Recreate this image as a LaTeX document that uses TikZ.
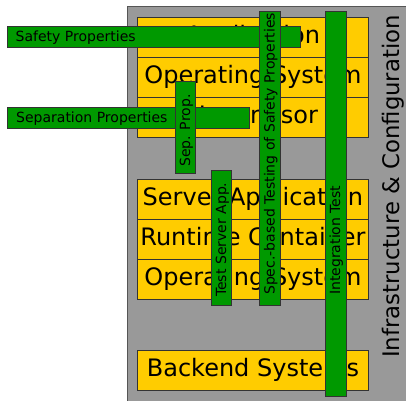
\documentclass[tikz,border=0pt]{standalone}
\usepackage{fontspec}
\setmainfont{DejaVu Sans}
\definecolor{bggray}{HTML}{999999}
\definecolor{graybd}{HTML}{555555}
\definecolor{layerY}{HTML}{FFCC00}
\definecolor{barG}{HTML}{009900}
\definecolor{edgeC}{HTML}{333333}
\begin{document}
\begin{tikzpicture}[x=1pt,y=-1pt,
  infrabox/.style={draw=graybd, line width=1.2pt, fill=bggray, inner sep=0pt, anchor=north west},
  layer/.style={draw=edgeC, line width=0.9pt, fill=layerY, minimum width=231.6pt, minimum height=40.2pt,
    inner sep=0pt, anchor=north west, font=\fontsize{24}{28}\selectfont, text height=17.5pt, text depth=5.5pt},
  gbar/.style={draw=edgeC, line width=0.9pt, fill=barG, inner sep=0pt, anchor=north west},
  lbl/.style={font=\fontsize{14}{16}\selectfont, inner sep=0pt, anchor=base west},
  vlbl/.style={lbl, rotate=90}]
\useasboundingbox (0,0) rectangle (406,400);
% background
\node[infrabox, minimum width=290pt, minimum height=400pt] (infra) at (126.5,5.5) {};
% layers
\node[layer] (app) at (136.7,16.7) {Application};
\node[layer] (os1) at (136.7,56.7) {Operating System};
\node[layer] (hyp) at (136.7,96.7) {Hypervisor};
\node[layer] (srv) at (136.7,178.5) {Server Application};
\node[layer] (rt) at (136.7,218.8) {Runtime Container};
\node[layer] (os2) at (136.7,259.1) {Operating System};
\node[layer] (be) at (136.7,350.2) {Backend Systems};
% horizontal bars
\node[gbar, minimum width=293.3pt, minimum height=20.7pt] (safety) at (6.7,26) {};
\node[lbl] (safetyT) at (15.5,41.5) {Safety Properties};
\node[gbar, minimum width=242.6pt, minimum height=20.4pt] (sep) at (6.7,107.3) {};
\node[lbl] (sepT) at (16,122.5) {Separation Properties};
% vertical bars
\node[gbar, minimum width=20pt, minimum height=91.5pt] (sepprop) at (175,81) {};
\node[vlbl] (seppropT) at (190,167) {Sep. Prop.};
\node[gbar, minimum width=20pt, minimum height=135pt] (testsrv) at (211,170) {};
\node[vlbl] (testsrvT) at (226,297) {Test Server App.};
\node[gbar, minimum width=20.7pt, minimum height=294pt] (spec) at (259.3,11) {};
\node[vlbl] (specT) at (274.6,295) {Spec.-based Testing of Safety Properties};
\node[gbar, minimum width=20.8pt, minimum height=384.7pt] (integ) at (324.7,11) {};
\node[vlbl] (integT) at (340,295) {Integration Test};
% right label
\node[font=\fontsize{22.8}{26}\selectfont, rotate=90, anchor=base, inner sep=0pt] (infraT) at (399,186.5) {Infrastructure \& Configuration};
\end{tikzpicture}
\end{document}
